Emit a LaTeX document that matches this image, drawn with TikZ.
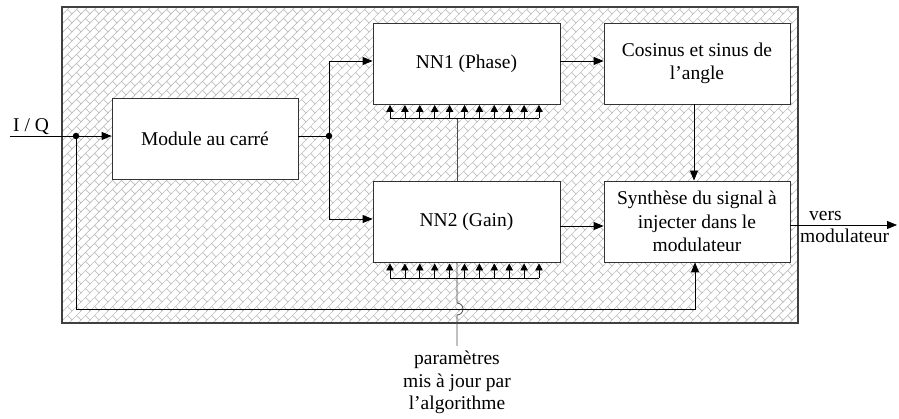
\documentclass[tikz,border=0pt]{standalone}
\usepackage{fontspec}
\setmainfont{Liberation Serif}
\usetikzlibrary{arrows.meta,patterns}

\pgfdeclarepatternformonly{dbrick}{\pgfqpoint{-1pt}{-1pt}}{\pgfqpoint{10pt}{10pt}}{\pgfqpoint{9pt}{9pt}}{%
  \pgfsetlinewidth{0.7pt}%
  \pgfpathmoveto{\pgfqpoint{-1pt}{-1pt}}\pgfpathlineto{\pgfqpoint{10pt}{10pt}}%
  \pgfpathmoveto{\pgfqpoint{9pt}{0pt}}\pgfpathlineto{\pgfqpoint{4.5pt}{4.5pt}}%
  \pgfusepath{stroke}}

\tikzset{
  txt/.style={font=\fontsize{19.5}{23.5}\selectfont, inner sep=0pt, align=center},
  blk/.style={txt, draw=black!80, fill=white, line width=0.8pt,
              minimum width=186pt, minimum height=81pt},
  conn/.style={draw=black, line width=0.8pt},
  arr/.style={conn, -{Triangle[length=10pt,width=8pt]}},
  sarr/.style={conn, -{Triangle[length=7pt,width=7.5pt]}},
  dotj/.style={circle, fill=black, inner sep=0pt, minimum size=6.5pt},
}

\begin{document}
\begin{tikzpicture}[x=1pt,y=-1pt]
\useasboundingbox (0,0) rectangle (899,419);

% hatched background frame
\fill[pattern=dbrick, pattern color=black!25] (62,7) rectangle (798,323);
\draw[draw=black!75, line width=1.2pt] (62,7) rectangle (798,323);

% parameter stems (behind boxes)
\coordinate (c1l) at (390,118);
\coordinate (c1r) at (539,118);
\coordinate (c2l) at (390,278);
\coordinate (c2r) at (539,278);
\coordinate (stemtop) at (457,118);
\coordinate (stemend) at (457,346);
\draw[conn, draw=black!70] (stemtop) -- (457,181);
\draw[conn, draw=black!70] (457,262) -- (457,303) arc[start angle=-90, end angle=90, radius=6] -- (stemend);

% boxes
\node[blk] (mod) at (205,138.5) {Module au carré};
\node[blk, minimum width=187pt] (nn1) at (466.5,63.5) {NN1 (Phase)};
\node[blk] (cos) at (697,63.5) {Cosinus et sinus de\\l’angle};
\node[blk, minimum width=187pt] (nn2) at (466.5,221.5) {NN2 (Gain)};
\node[blk] (syn) at (697,221.5) {Synthèse du signal à\\injecter dans le\\modulateur};

% combs of parameter arrows
\draw[conn] (c1l) -- (c1r);
\draw[conn] (c2l) -- (c2r);
\foreach \i in {0,...,10}{
  \draw[sarr] (390+\i*14.9,118) -- (390+\i*14.9,105);
  \draw[sarr] (390+\i*14.9,278) -- (390+\i*14.9,263.5);
}

% input
\coordinate (iq) at (10,136);
\node[dotj] (j1) at (76,136) {};
\node[dotj] (j2) at (329,136) {};
\node[txt, anchor=base west] (iqlbl) at (13,132) {I / Q};
\draw[arr] (iq) -- (iq -| mod.west);
\draw[conn] (mod.east |- j2) -- (j2);
\draw[arr] (j2) |- (nn1.west |- 0,61);
\draw[arr] (j2) |- (nn2.west |- 0,219);
\draw[arr] (nn1.east |- 0,61) -- (cos.west |- 0,61);
\draw[arr] (nn2.east |- 0,226) -- (syn.west |- 0,226);
\draw[arr] (cos.south -| 694,0) -- (syn.north -| 694,0);

% feedback line
\draw[arr] (j1) -- (76,309) -| (syn.south -| 695,0);

% output
\coordinate (out) at (897,225);
\draw[arr] (syn.east |- out) -- (out);
\node[txt, anchor=base west] (vers) at (809,221) {vers};
\node[txt, anchor=base west] (modl) at (800,243) {modulateur};

% parameters label
\node[txt, anchor=north, font=\fontsize{19.5}{22.5}\selectfont] (param) at (457,351) {paramètres\\mis à jour par\\l’algorithme};
\end{tikzpicture}
\end{document}
